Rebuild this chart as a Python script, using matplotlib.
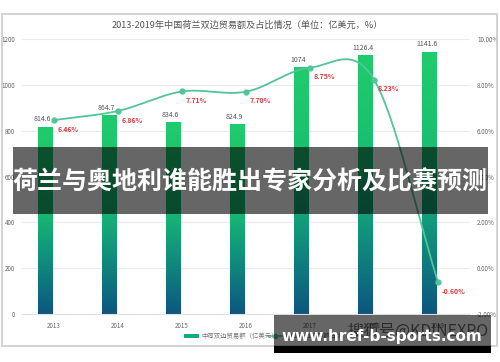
import numpy as np
import matplotlib
matplotlib.use("Agg")
from matplotlib import pyplot as plt
from matplotlib.colors import LinearSegmentedColormap
from matplotlib.patches import Rectangle

plt.rcParams['font.family'] = ['Noto Sans CJK SC', 'DejaVu Sans']

# data
years = ['2013', '2014', '2015', '2016', '2017', '2018', '2019']
trade = [814.6, 864.7, 834.6, 824.9, 1074, 1126.4, 1141.6]
share = [6.46, 6.86, 7.71, 7.70, 8.75, 8.23, -0.60]
left_ticks = [0, 200, 400, 600, 800, 1000, 1200]
right_ticks = [-2, 0, 2, 4, 6, 8, 10]
title = '2013-2019年中国荷兰双边贸易额及占比情况（单位：亿美元，%）'
legend_bar = '中荷双边贸易额（亿美元）'
legend_line = '中荷双边贸易额占比'
banner = '荷兰与奥地利谁能胜出专家分析及比赛预测'
site = 'www.href-b-sports.com'
mark = '搜狐号@KDINEXPO'

W, H = 500, 362
fig = plt.figure(figsize=(W / 100, H / 100), dpi=100)
fig.patch.set_facecolor('white')


def box(x0, y0, x1, y1):
    # pixel box (top-left origin) -> figure fraction rect
    return [x0 / W, 1 - y1 / H, (x1 - x0) / W, (y1 - y0) / H]


# outer frame
fig.patches.append(Rectangle((2 / W, 1 - 346 / H), 495 / W, 332 / H, transform=fig.transFigure,
                             fill=False, ec='#cfcfcf', lw=1.3))
fig.text(247 / W, 1 - 25 / H, title, ha='center', va='center', fontsize=6.6, color='#555555')

ax = fig.add_axes(box(22, 39, 470, 314))
ax2 = ax.twinx()

cmap = LinearSegmentedColormap.from_list(
    'g', [(0, '#0c5680'), (0.3, '#10907c'), (0.55, '#18bb72'), (1, '#1fcc6c')])
grad = np.linspace(0, 1, 256).reshape(-1, 1)
bw = 0.23
x = np.arange(len(years))
for i, v in enumerate(trade):
    xc = i - 0.14
    ax.imshow(grad, cmap=cmap, extent=[xc - bw / 2, xc + bw / 2, 0, v], origin='lower',
              aspect='auto', zorder=2)
    ax.text(xc - 0.04, v + 18, str(v), ha='center', va='bottom', fontsize=5, color='#555555')

ax.set_xlim(-0.5, 6.5)
ax.set_ylim(0, 1200)
ax.set_yticks(left_ticks)
ax.set_xticks(x)
ax.set_xticklabels(years)
ax.grid(axis='y', color='#ebebeb', lw=0.8)
ax.set_axisbelow(True)
for s in ax.spines.values():
    s.set_visible(False)
ax.spines['bottom'].set_visible(True)
ax.spines['bottom'].set_color('#dddddd')
ax.tick_params(length=0, labelsize=4.5, labelcolor='#666666', pad=5)
ax.tick_params(axis='x', pad=6)


# smooth drawing of the share line (Catmull-Rom through the data points)
def smooth(xs, ys, n=30):
    xs, ys = np.asarray(xs, float), np.asarray(ys, float)
    px = np.concatenate([[2 * xs[0] - xs[1]], xs, [2 * xs[-1] - xs[-2]]])
    py = np.concatenate([[2 * ys[0] - ys[1]], ys, [2 * ys[-1] - ys[-2]]])
    ox, oy = [], []
    t = np.linspace(0, 1, n)
    for k in range(1, len(px) - 2):
        for p, o in ((px, ox), (py, oy)):
            p0, p1, p2, p3 = p[k - 1], p[k], p[k + 1], p[k + 2]
            o.extend(0.5 * (2 * p1 + (p2 - p0) * t + (2 * p0 - 5 * p1 + 4 * p2 - p3) * t ** 2
                            + (3 * p1 - p0 - 3 * p2 + p3) * t ** 3))
    return ox, oy


sx, sy = smooth(x, share)
ax2.plot(sx, sy, color='#52c597', lw=1.3, zorder=3)
ax2.plot(x, share, 'o', color='#52c597', ms=3.5, zorder=4)
for i, v in enumerate(share):
    ax2.text(i + 0.05, v - 0.25, f'{v:.2f}%', ha='left', va='top', fontsize=5,
             color='#e0393e', fontweight='bold')
ax2.set_ylim(-2, 10)
ax2.set_yticks(right_ticks)
ax2.set_yticklabels([f'{t:.2f}%' for t in right_ticks])
for s in ax2.spines.values():
    s.set_visible(False)
ax2.tick_params(length=0, labelsize=4.5, labelcolor='#666666', pad=5)

# legend
fig.patches.append(Rectangle((184 / W, 1 - 338 / H), 15 / W, 4 / H, transform=fig.transFigure,
                             color='#17a978', ec='none'))
fig.text(201 / W, 1 - 336 / H, legend_bar, ha='left', va='center', fontsize=4.6, color='#777777')
fig.lines.append(plt.Line2D([268 / W, 282 / W], [1 - 336 / H] * 2, transform=fig.transFigure,
                            color='#52c597', lw=1.2))
fig.lines.append(plt.Line2D([275 / W], [1 - 336 / H], transform=fig.transFigure, marker='o',
                            color='#52c597', ms=3))
fig.text(285 / W, 1 - 336 / H, legend_line, ha='left', va='center', fontsize=4.6, color='#777777')

# overlays
fig.patches.append(Rectangle((13 / W, 1 - 214 / H), 475 / W, 67 / H, transform=fig.transFigure,
                             color='black', alpha=0.6, ec='none', zorder=10))
fig.text(250 / W, 1 - 182 / H, banner, ha='center', va='center', fontsize=18, color='white',
         fontweight='bold', zorder=11)

fig.patches.append(Rectangle((274 / W, 1 - 346 / H), 217 / W, 31 / H, transform=fig.transFigure,
                             color='black', alpha=0.6, ec='none', zorder=10))
fig.patches.append(Rectangle((274 / W, 1 - 353 / H), 217 / W, 7 / H, transform=fig.transFigure,
                             color='black', ec='none', zorder=10))
fig.text(489 / W, 1 - 331 / H, mark, ha='right', va='center', fontsize=11.5, color='#1a1a1a',
         alpha=0.75, zorder=11)
fig.text(382 / W, 1 - 336 / H, site, ha='center', va='center', fontsize=11, color='white',
         fontweight='bold', family='DejaVu Sans', zorder=12)

fig.savefig('out.png', dpi=100)
